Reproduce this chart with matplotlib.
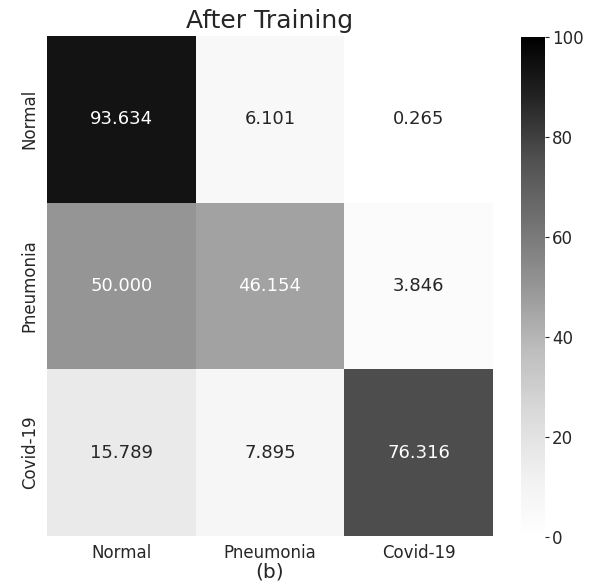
import numpy as np
import matplotlib
matplotlib.use("Agg")
import matplotlib.pyplot as plt
import seaborn as sns

classes = ["Normal", "Pneumonia", "Covid-19"]
# row-normalised confusion matrix, in percent
normal_row = [93.634, 6.101, 0.265]
pneumonia_row = [50.000, 46.154, 3.846]
covid_row = [15.789, 7.895, 76.316]

cm = np.array([normal_row, pneumonia_row, covid_row])

sns.set_style("white")
plt.rcParams["font.family"] = ["DejaVu Sans"]

fig = plt.figure(figsize=(6.05, 5.84), dpi=100)
ax = fig.add_axes([0.0777, 0.0822, 0.7372, 0.8562])
cax = fig.add_axes([0.8612, 0.0805, 0.0397, 0.8562])

sns.heatmap(cm, annot=True, fmt=".3f", cmap="Greys", vmin=0, vmax=100,
            xticklabels=classes, yticklabels=classes,
            annot_kws={"size": 13}, ax=ax, cbar_ax=cax)

ax.set_title("After Training", fontsize=18, color=".15", pad=6)
ax.set_xlabel("(b)", fontsize=14.5, color=".15", labelpad=0)
ax.tick_params(axis="both", length=0, labelsize=12, colors=".15", pad=6)
plt.setp(ax.get_yticklabels(), rotation=90, va="center")

cax.set_yticks([0, 20, 40, 60, 80, 100])
cax.tick_params(axis="y", right=True, length=3, width=0.8, labelsize=12,
                colors=".15", pad=2)
for s in cax.spines.values():
    s.set_visible(False)

fig.savefig("out.png", dpi=100)
